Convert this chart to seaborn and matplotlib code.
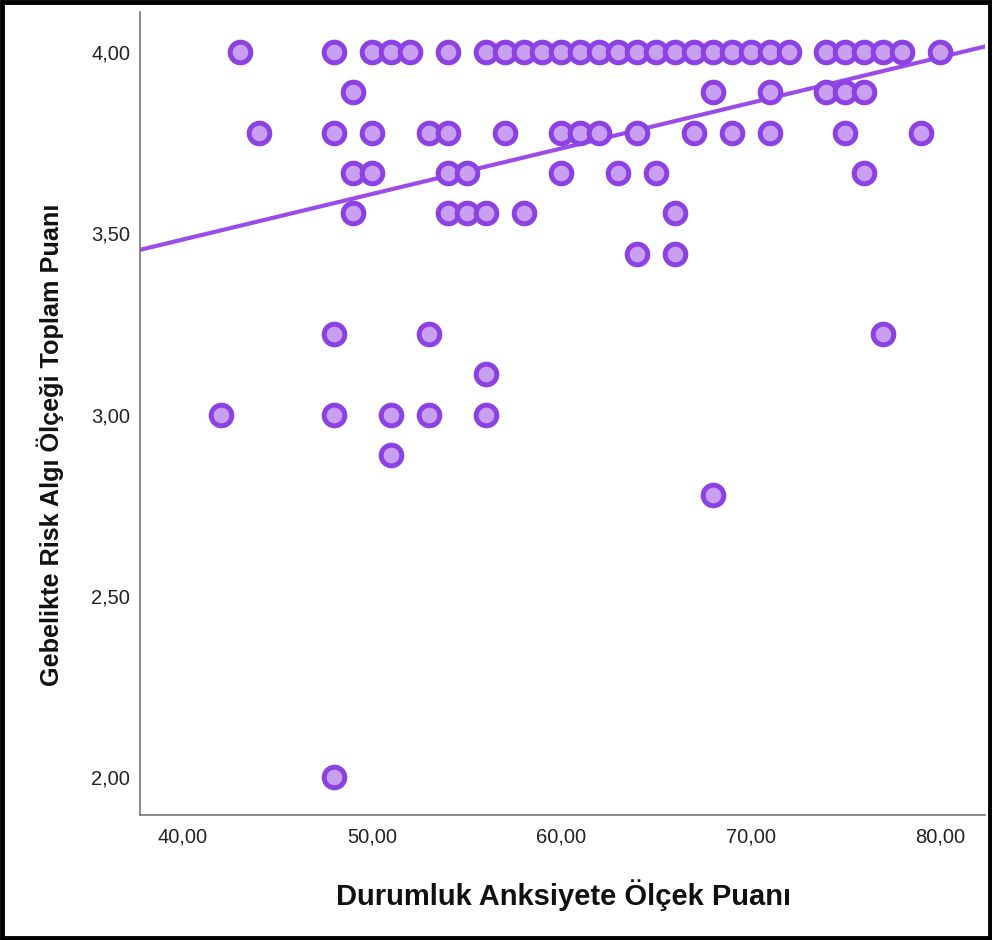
import numpy as np
import pandas as pd
import seaborn as sns
import matplotlib.pyplot as plt
from matplotlib.patches import Rectangle

# Score levels (risk perception, y) and the anxiety scores (x) seen at each level
rows = {
    4.000: [43, 48, 50, 51, 52, 54, 56, 57, 58, 59, 60, 61, 62, 63, 64, 65, 66, 67,
            68, 69, 70, 71, 72, 74, 75, 76, 77, 78, 80],
    3.889: [49, 68, 71, 74, 75, 76],
    3.778: [44, 48, 50, 53, 54, 57, 60, 61, 62, 64, 67, 69, 71, 75, 79],
    3.667: [49, 50, 54, 55, 60, 63, 65, 76],
    3.556: [49, 54, 55, 56, 58, 66],
    3.444: [64, 66],
    3.222: [48, 53, 77],
    3.111: [56],
    3.000: [42, 48, 51, 53, 56],
    2.889: [51],
    2.778: [68],
    2.000: [48],
}

# Fit line
fit_intercept = 2.980
fit_slope = 0.01257

x_ticks = [40, 50, 60, 70, 80]
x_tick_labels = ['40,00', '50,00', '60,00', '70,00', '80,00']
y_ticks = [2.0, 2.5, 3.0, 3.5, 4.0]
y_tick_labels = ['2,00', '2,50', '3,00', '3,50', '4,00']

x_label = 'Durumluk Anksiyete Ölçek Puanı'
y_label = 'Gebelikte Risk Algı Ölçeği Toplam Puanı'

df = pd.DataFrame([(x, y) for y, xs in rows.items() for x in xs], columns=['anx', 'risk'])

sns.set_style('white')
plt.rcParams['font.family'] = ['Liberation Sans', 'DejaVu Sans']

fig = plt.figure(figsize=(9.92, 9.40), dpi=100)
ax = fig.add_axes([0.141, 0.133, 0.852, 0.854])

line_color = '#9b4ce6'
ax.set_xlim(37.73, 82.38)
ax.set_ylim(1.895, 4.11)

lx = np.array(ax.get_xlim())
sns.lineplot(x=lx, y=fit_intercept + fit_slope * lx, ax=ax, color=line_color, lw=3, zorder=1)

sns.scatterplot(data=df, x='anx', y='risk', ax=ax, s=220, color='#c99ff2',
                edgecolor='#8c42e2', linewidth=3.6, zorder=2)

ax.set_xticks(x_ticks)
ax.set_xticklabels(x_tick_labels, fontsize=14.5)
ax.set_yticks(y_ticks)
ax.set_yticklabels(y_tick_labels, fontsize=14.5)
ax.tick_params(axis='x', length=0, pad=9, colors='#222222')
ax.tick_params(axis='y', length=0, pad=7, colors='#222222')
ax.set_xlabel('')
ax.set_ylabel('')

for side in ['top', 'right']:
    ax.spines[side].set_visible(False)
for side in ['left', 'bottom']:
    ax.spines[side].set_color('#777777')
    ax.spines[side].set_linewidth(1.2)

fig.text(0.568, 1 - 895 / 940, x_label, fontsize=21, fontweight='bold',
         ha='center', va='center', color='#111111')
fig.text(50 / 992, 1 - 445 / 940, y_label, fontsize=18.2, fontweight='bold',
         ha='center', va='center', rotation=90, color='#111111')

# black frame around the whole picture
fig.patches.append(Rectangle((0.002, 0.002), 0.996, 0.996, transform=fig.transFigure,
                             fill=False, edgecolor='black', linewidth=3.5))

fig.savefig('out.png', dpi=100)
